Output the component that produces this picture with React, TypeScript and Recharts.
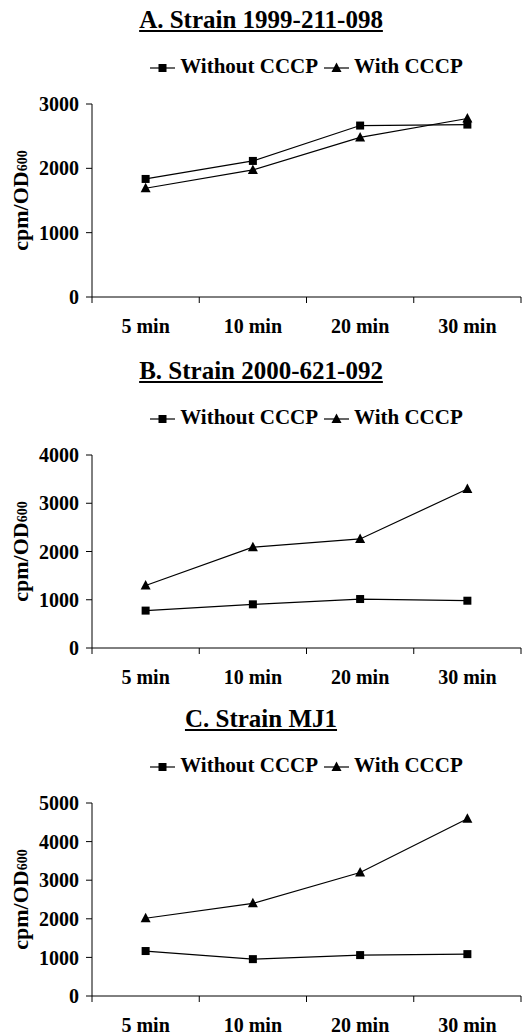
import React from "react";
import { LineChart, Line, XAxis, YAxis, Legend } from "recharts";

const timePoints = ["5 min", "10 min", "20 min", "30 min"];
const strainAWithout = [1835, 2115, 2665, 2680];
const strainAWith = [1690, 1975, 2480, 2775];
const strainBWithout = [775, 905, 1015, 980];
const strainBWith = [1295, 2090, 2260, 3295];
const strainCWithout = [1165, 955, 1060, 1085];
const strainCWith = [2015, 2400, 3200, 4590];
const yTicksA = [0, 1000, 2000, 3000];
const yTicksB = [0, 1000, 2000, 3000, 4000];
const yTicksC = [0, 1000, 2000, 3000, 4000, 5000];
const legendOrder = ["without", "with"];

const FONT = "'Liberation Serif', 'Times New Roman', serif";
const LABEL_GAP = 22;
const EDGE_TICK = 6;

function buildRows(without: number[], withC: number[]) {
  return timePoints.map((t, i) => ({ time: t, without: without[i], with: withC[i] }));
}

const Square = (props: any) => {
  const { cx, cy, key } = props;
  if (cx == null || cy == null) return <g key={key} />;
  return <rect key={key} x={cx - 4} y={cy - 4} width={8} height={8} fill="#000" />;
};

const Triangle = (props: any) => {
  const { cx, cy, key } = props;
  if (cx == null || cy == null) return <g key={key} />;
  return <path key={key} d={`M${cx},${cy - 5.5}L${cx + 5},${cy + 4}L${cx - 5},${cy + 4}Z`} fill="#000" />;
};

// category label at band centre, tick marks at band edges
const TimeTick = (props: any) => {
  const { x, y, width, visibleTicksCount, index, payload } = props;
  const band = width / visibleTicksCount;
  const axisY = y - LABEL_GAP;
  const left = x - band / 2;
  const right = x + band / 2;
  return (
    <g>
      <line x1={left} y1={axisY} x2={left} y2={axisY + EDGE_TICK} stroke="#000" />
      {index === visibleTicksCount - 1 && (
        <line x1={right} y1={axisY} x2={right} y2={axisY + EDGE_TICK} stroke="#000" />
      )}
      <text x={x} y={y} dy="0.71em" textAnchor="middle" fill="#000" fontFamily={FONT} fontWeight="bold" fontSize={20}>
        {payload.value}
      </text>
    </g>
  );
};

function LegendIcon({ kind }: { kind: string }) {
  return (
    <svg width={25} height={12} style={{ marginRight: 5, verticalAlign: "middle" }}>
      <line x1={0} y1={6} x2={25} y2={6} stroke="#000" strokeWidth={1.2} />
      {kind === "without" ? (
        <rect x={8.5} y={2} width={8} height={8} fill="#000" />
      ) : (
        <path d="M12.5,0.5L17.5,10L7.5,10Z" fill="#000" />
      )}
    </svg>
  );
}

const renderLegend = (props: any) => {
  const items = [...(props.payload || [])].sort(
    (a: any, b: any) => legendOrder.indexOf(a.dataKey) - legendOrder.indexOf(b.dataKey)
  );
  return (
    <div style={{ textAlign: "center", fontFamily: FONT, fontWeight: "bold", fontSize: 21, whiteSpace: "nowrap" }}>
      {items.map((entry: any, i: number) => (
        <span key={entry.value} style={{ marginLeft: i === 0 ? 0 : 6 }}>
          <LegendIcon kind={entry.dataKey} />
          {entry.value}
        </span>
      ))}
    </div>
  );
};

const yLabel = (props: any) => {
  const { viewBox } = props;
  const cx = 20;
  const cy = viewBox.y + viewBox.height / 2;
  return (
    <text
      x={cx}
      y={cy}
      transform={`rotate(-90 ${cx} ${cy})`}
      textAnchor="middle"
      dominantBaseline="central"
      fontFamily={FONT}
      fontWeight="bold"
      fontSize={22}
      fill="#000"
    >
      cpm/OD<tspan fontSize={14} dy={2}>600</tspan>
    </text>
  );
};

interface PanelProps {
  title: string;
  plotTop: number;
  without: number[];
  withC: number[];
  yTicks: number[];
}

function Panel({ title, plotTop, without, withC, yTicks }: PanelProps) {
  const rows = buildRows(without, withC);
  const plotHeight = 193;
  return (
    <>
      <div
        style={{
          position: "absolute",
          left: 0,
          width: 522,
          top: plotTop - 100,
          height: 32,
          lineHeight: "32px",
          textAlign: "center",
          fontFamily: FONT,
          fontWeight: "bold",
          fontSize: 25,
          textDecoration: "underline",
        }}
      >
        {title}
      </div>
      <div style={{ position: "absolute", left: 0, top: plotTop - 50 }}>
        <LineChart width={522} height={50 + plotHeight + 45} data={rows} margin={{ top: 50, right: 1, bottom: 0, left: 0 }}>
          <XAxis
            dataKey="time"
            scale="band"
            height={45}
            interval={0}
            tickLine={false}
            tickSize={0}
            tickMargin={LABEL_GAP}
            axisLine={{ stroke: "#000" }}
            tick={TimeTick}
          />
          <YAxis
            width={92}
            domain={[0, yTicks[yTicks.length - 1]]}
            ticks={yTicks}
            interval={0}
            tickSize={6}
            tickMargin={7}
            axisLine={{ stroke: "#000" }}
            tickLine={{ stroke: "#000" }}
            tick={{ fill: "#000", fontFamily: FONT, fontWeight: "bold", fontSize: 20 }}
            label={yLabel}
          />
          <Legend
            layout="horizontal"
            verticalAlign="middle"
            align="center"
            content={renderLegend}
            wrapperStyle={{ top: 0, left: 92, width: 429, height: 26 }}
          />
          <Line dataKey="without" name="Without CCCP" stroke="#000" strokeWidth={1.2} dot={Square} isAnimationActive={false} />
          <Line dataKey="with" name="With CCCP" stroke="#000" strokeWidth={1.2} dot={Triangle} isAnimationActive={false} />
        </LineChart>
      </div>
    </>
  );
}

export default function App() {
  return (
    <div style={{ position: "absolute", left: 0, top: 0, width: 522, height: 1036, background: "#fff" }}>
      <Panel title="A. Strain 1999-211-098" plotTop={104} without={strainAWithout} withC={strainAWith} yTicks={yTicksA} />
      <Panel title="B. Strain 2000-621-092" plotTop={455} without={strainBWithout} withC={strainBWith} yTicks={yTicksB} />
      <Panel title="C. Strain MJ1" plotTop={803} without={strainCWithout} withC={strainCWith} yTicks={yTicksC} />
    </div>
  );
}
